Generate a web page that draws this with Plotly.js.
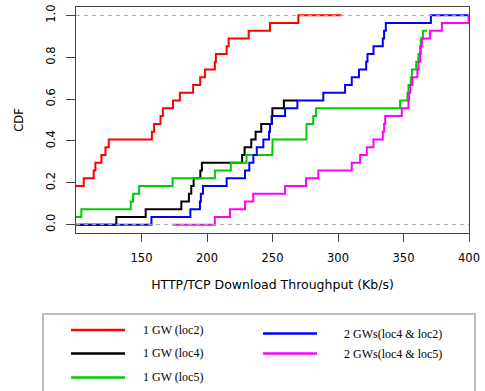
<!DOCTYPE html>
<html>
<head>
<meta charset="utf-8">
<script src="https://cdn.plot.ly/plotly-3.0.1.min.js"></script>
<style>html,body{margin:0;padding:0;background:#fff;}#chart{width:485px;height:391px;}</style>
</head>
<body>
<div id="chart"></div>
<script>
// Series names and colours
const seriesNames = ["1 GW (loc2)", "1 GW (loc4)", "1 GW (loc5)", "2 GWs(loc4 & loc2)", "2 GWs(loc4 & loc5)"];
const seriesColors = ["#ff0000", "#000000", "#00cd00", "#0000ff", "#ff00ff"];

// Step positions (throughput, Kb/s) and CDF level after each step
const redX = [100, 105.9, 113.5, 114.8, 119.4, 122.5, 125.0, 157.9, 159.6, 164.5, 166.3, 174.1, 179.3, 189.4, 194.8, 198.4, 206.0, 206.8, 215.0, 216.5, 231.8, 248.1, 269.7, 302.9];
const redY = [0.185, 0.222, 0.259, 0.296, 0.333, 0.370, 0.407, 0.444, 0.481, 0.519, 0.556, 0.593, 0.630, 0.667, 0.704, 0.741, 0.778, 0.815, 0.852, 0.889, 0.926, 0.963, 1.0, 1.0];

const blackX = [100, 130.8, 153.2, 180.4, 186.2, 188.0, 189.8, 194.9, 196.1, 226.8, 228.7, 233.8, 237.1, 241.4, 249.5, 249.9, 258.7, 268.9];
const blackY = [0, 0.037, 0.074, 0.111, 0.148, 0.185, 0.222, 0.259, 0.296, 0.333, 0.370, 0.407, 0.444, 0.481, 0.519, 0.556, 0.593, 0.593];

const greenX = [100, 104.1, 141.8, 143.6, 148.2, 173.7, 206.0, 218.2, 230.2, 249.9, 250.0, 275.9, 276.0, 281.1, 283.2, 347.4, 353.0, 353.8, 355.6, 356.4, 359.7, 361.4, 362.7, 363.2, 364.8, 368.0];
const greenY = [0.037, 0.074, 0.111, 0.148, 0.185, 0.222, 0.259, 0.296, 0.333, 0.370, 0.407, 0.444, 0.481, 0.519, 0.556, 0.593, 0.630, 0.667, 0.704, 0.741, 0.778, 0.815, 0.852, 0.889, 0.926, 0.926];

const blueX = [102.4, 157.6, 187.3, 194.6, 195.3, 196.9, 215.0, 229.0, 232.3, 235.4, 238.0, 243.0, 247.4, 248.1, 249.4, 259.6, 269.0, 288.8, 305.4, 310.5, 316.0, 321.5, 322.5, 327.1, 334.2, 335.2, 336.5, 370.9, 400];
const blueY = [0, 0.037, 0.074, 0.111, 0.148, 0.185, 0.222, 0.259, 0.296, 0.333, 0.370, 0.407, 0.444, 0.481, 0.519, 0.556, 0.593, 0.630, 0.667, 0.704, 0.741, 0.778, 0.815, 0.852, 0.889, 0.926, 0.963, 1.0, 1.0];

const magentaX = [173.7, 206.0, 217.5, 229.0, 235.3, 259.6, 275.6, 285.0, 310.5, 316.9, 322.0, 327.1, 334.2, 335.2, 336.0, 348.7, 353.8, 354.3, 355.1, 356.8, 360.6, 361.4, 362.7, 363.2, 364.0, 370.3, 379.3, 399.7, 400];
const magentaY = [0, 0.037, 0.074, 0.111, 0.148, 0.185, 0.222, 0.259, 0.296, 0.333, 0.370, 0.407, 0.444, 0.481, 0.519, 0.556, 0.593, 0.630, 0.667, 0.704, 0.741, 0.778, 0.815, 0.852, 0.889, 0.926, 0.963, 1.0, 1.0];

// Axis ticks
const xTickVals = [150, 200, 250, 300, 350, 400];
const yTickVals = [0, 0.2, 0.4, 0.6, 0.8, 1.0];
const yTickText = ["0.0", "0.2", "0.4", "0.6", "0.8", "1.0"];

const xs = [redX, blackX, greenX, blueX, magentaX];
const ys = [redY, blackY, greenY, blueY, magentaY];

const traces = xs.map((x, i) => ({
  type: "scatter", mode: "lines", x: x, y: ys[i], name: seriesNames[i],
  line: {shape: "hv", color: seriesColors[i], width: 2},
  showlegend: false, hoverinfo: "skip"
}));

// pixel -> paper helpers for the hand-placed legend (layout only)
const L = 76, R = 469, T = 7, B = 233;
const px = v => (v - L) / (R - L);
const py = v => (B - v) / (B - T);

const shapes = [
  {type: "line", xref: "paper", yref: "y", x0: 0, x1: 1, y0: 0, y1: 0, layer: "above",
   line: {color: "#aaaaaa", width: 1, dash: "4px,4px"}},
  {type: "line", xref: "paper", yref: "y", x0: 0, x1: 1, y0: 1, y1: 1, layer: "above",
   line: {color: "#aaaaaa", width: 1, dash: "4px,4px"}},
  {type: "rect", xref: "paper", yref: "paper", x0: px(43), x1: px(475), y0: py(400), y1: py(314),
   line: {color: "#bdbdbd", width: 2}, fillcolor: "rgba(0,0,0,0)"}
];

// legend slots: [lineX0, lineX1, lineY, textX, textY]
const slots = [
  [71, 125, 330, 141, 329.5],
  [71, 125, 353.5, 141, 352.5],
  [71, 125, 377.5, 141, 376.5],
  [263, 317, 333.5, 342, 333.5],
  [263, 317, 353.5, 342, 353.5]
];
const annotations = [];
slots.forEach((s, i) => {
  shapes.push({type: "line", xref: "paper", yref: "paper", x0: px(s[0]), x1: px(s[1]), y0: py(s[2]), y1: py(s[2]),
    line: {color: seriesColors[i], width: 2.5}});
  annotations.push({xref: "paper", yref: "paper", x: px(s[3]), y: py(s[4]), xanchor: "left", yanchor: "middle",
    text: seriesNames[i], showarrow: false, font: {family: "Liberation Serif", size: 12, color: "#000"}});
});

const axisFont = {family: "DejaVu Sans", size: 11.5, color: "#000"};

const layout = {
  width: 485, height: 391,
  margin: {l: 76, r: 16, t: 7, b: 158},
  paper_bgcolor: "#fff", plot_bgcolor: "#fff",
  showlegend: false,
  xaxis: {
    range: [100, 400], tickvals: xTickVals, ticks: "outside", ticklen: 8, tickcolor: "#444",
    showline: true, mirror: true, linecolor: "#444", linewidth: 1, showgrid: false, zeroline: false,
    tickfont: axisFont, ticklabelstandoff: 6,
    title: {text: "HTTP/TCP Download Throughput (Kb/s)", font: {family: "DejaVu Sans", size: 12.5, color: "#000"}, standoff: 16}
  },
  yaxis: {
    range: [-0.04, 1.04], tickvals: yTickVals, ticktext: yTickText, tickangle: -90,
    ticks: "outside", ticklen: 9, tickcolor: "#444",
    showline: true, mirror: true, linecolor: "#444", linewidth: 1, showgrid: false, zeroline: false,
    tickfont: axisFont, ticklabelstandoff: 6,
    title: {text: "CDF", font: axisFont, standoff: 18}
  },
  shapes: shapes,
  annotations: annotations
};

Plotly.newPlot("chart", traces, layout, {displayModeBar: false, staticPlot: true});
</script>
</body>
</html>
